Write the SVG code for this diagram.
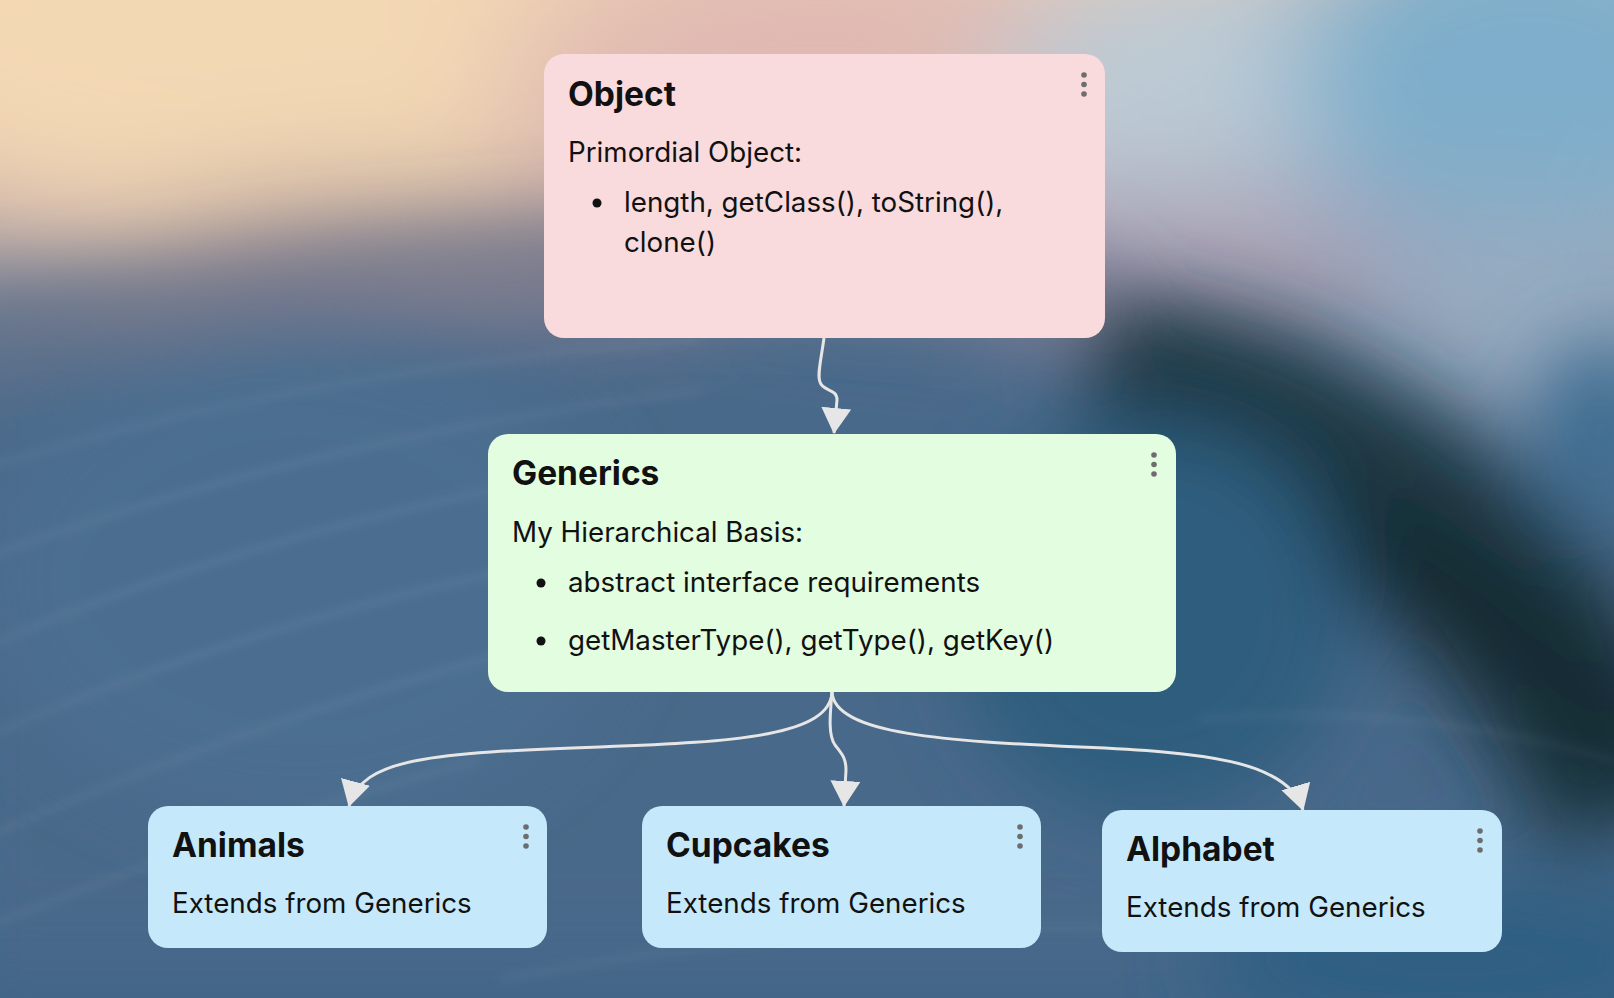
<svg xmlns="http://www.w3.org/2000/svg" width="1614" height="998" viewBox="0 0 1614 998">
<defs>
<linearGradient id="bg" x1="0" y1="0" x2="0" y2="1">
<stop offset="0" stop-color="#e8c8b4"/>
<stop offset="0.2" stop-color="#c4aaa8"/>
<stop offset="0.36" stop-color="#5d7892"/>
<stop offset="0.6" stop-color="#46698b"/>
<stop offset="1" stop-color="#3b6386"/>
</linearGradient>
<filter id="blur60" x="-50%" y="-50%" width="200%" height="200%"><feGaussianBlur stdDeviation="60"/></filter>
<filter id="blur35" x="-50%" y="-50%" width="200%" height="200%"><feGaussianBlur stdDeviation="40"/></filter>
<filter id="blur6" x="-10%" y="-50%" width="120%" height="200%"><feGaussianBlur stdDeviation="5"/></filter>
<marker id="ah" viewBox="0 0 26 30" markerWidth="26" markerHeight="30" refX="25" refY="15" orient="auto" markerUnits="userSpaceOnUse">
<path d="M0,0 L26,15 L0,30 Z" fill="#e6e6e6"/>
</marker>
<style>
.title{font-family:Inter,"Liberation Sans",sans-serif;font-weight:700;font-size:33.5px;fill:#111}
.body{font-family:Inter,"Liberation Sans",sans-serif;font-weight:400;font-size:27.75px;fill:#111}
.dot{fill:#6d6d6d}
.bul{fill:#111}
.edge{fill:none;stroke:#e6e6e6;stroke-width:3;marker-end:url(#ah)}
.pink{fill:#f9dbdd}
.green{fill:#e3fde0}
.blue{fill:#c5e9fb}
</style>
</defs>

<g id="background">
<rect x="0" y="0" width="1614" height="998" fill="url(#bg)"/>
<g filter="url(#blur60)">
<ellipse cx="240" cy="30" rx="440" ry="200" fill="#f3d8b4"/>
<ellipse cx="820" cy="80" rx="330" ry="130" fill="#e0bab2"/>
<ellipse cx="420" cy="250" rx="300" ry="60" fill="#b69c9c"/>
<ellipse cx="1250" cy="100" rx="260" ry="150" fill="#bccbd5"/>
<ellipse cx="1530" cy="80" rx="240" ry="190" fill="#7eaecb"/>
<ellipse cx="1520" cy="320" rx="180" ry="120" fill="#97abc0"/>
<ellipse cx="1200" cy="250" rx="220" ry="60" fill="#a89cb2"/>
<path d="M-100 350 Q 700 150 1614 450 L 1614 998 L -100 998 Z" fill="#48698a"/>
</g>
<g filter="url(#blur35)">
<path d="M-60 350 Q 600 200 1100 300" fill="none" stroke="#6d7489" stroke-width="60"/>
<path d="M1090 390 Q 1470 440 1640 820" fill="none" stroke="#1d3743" stroke-width="190"/>
<path d="M1320 520 Q 1520 610 1640 760" fill="none" stroke="#142b32" stroke-width="110"/>
<ellipse cx="1600" cy="430" rx="60" ry="90" fill="#3a6a90"/>
<ellipse cx="1150" cy="620" rx="200" ry="200" fill="#2f5d7e"/>
<ellipse cx="1450" cy="960" rx="250" ry="80" fill="#2e5f82"/>
<ellipse cx="300" cy="580" rx="320" ry="240" fill="#4b6e90"/>
</g>
<g filter="url(#blur6)" stroke="#ffffff" stroke-opacity="0.06" fill="none" stroke-width="6">
<path d="M-20 470 Q 300 370 700 340"/>
<path d="M-20 560 Q 300 440 700 390"/>
<path d="M-20 650 Q 250 530 600 470"/>
<path d="M-20 740 Q 250 620 560 560"/>
<path d="M-20 840 Q 250 720 520 650"/>
<path d="M-20 930 Q 250 820 480 760"/>
<path d="M500 980 Q 900 900 1300 940"/>
<path d="M1200 720 Q 1400 700 1614 760"/>
</g>
</g>

<g id="connectors">
<path class="edge" d="M824 338 C 821 360, 817 375, 820 382 C 823 392, 837 388, 837 400 L 834 433"/>
<path class="edge" d="M832 692 C 830 735, 740 742, 600 747 C 430 753, 362 758, 349 806"/>
<path class="edge" d="M832 692 C 830 715, 828 735, 835 745 C 842 754, 846 758, 846 770 L 844 806"/>
<path class="edge" d="M832 692 C 834 735, 950 741, 1080 747 C 1200 752, 1288 760, 1303 810"/>
</g>

<g id="node-object">
<rect class="pink" x="544" y="54" width="561" height="284" rx="20"/>
<circle class="dot" cx="1084" cy="75" r="2.8"/>
<circle class="dot" cx="1084" cy="84.5" r="2.8"/>
<circle class="dot" cx="1084" cy="94" r="2.8"/>
<text class="title" x="568" y="106">Object</text>
<text class="body" x="568" y="162">Primordial Object:</text>
<circle class="bul" cx="597" cy="203" r="4.5"/>
<text class="body" x="624" y="212">length, getClass(), toString(),</text>
<text class="body" x="624" y="252">clone()</text>
</g>

<g id="node-generics">
<rect class="green" x="488" y="434" width="688" height="258" rx="20"/>
<circle class="dot" cx="1154" cy="455" r="2.8"/>
<circle class="dot" cx="1154" cy="464.5" r="2.8"/>
<circle class="dot" cx="1154" cy="474" r="2.8"/>
<text class="title" x="512" y="485">Generics</text>
<text class="body" x="512" y="542">My Hierarchical Basis:</text>
<circle class="bul" cx="541" cy="583" r="4.5"/>
<text class="body" x="568" y="592">abstract interface requirements</text>
<circle class="bul" cx="541" cy="641" r="4.5"/>
<text class="body" x="568" y="650">getMasterType(), getType(), getKey()</text>
</g>

<g id="node-animals">
<rect class="blue" x="148" y="806" width="399" height="142" rx="20"/>
<circle class="dot" cx="526" cy="827" r="2.8"/>
<circle class="dot" cx="526" cy="836.5" r="2.8"/>
<circle class="dot" cx="526" cy="846" r="2.8"/>
<text class="title" x="172" y="857">Animals</text>
<text class="body" x="172" y="913">Extends from Generics</text>
</g>

<g id="node-cupcakes">
<rect class="blue" x="642" y="806" width="399" height="142" rx="20"/>
<circle class="dot" cx="1020" cy="827" r="2.8"/>
<circle class="dot" cx="1020" cy="836.5" r="2.8"/>
<circle class="dot" cx="1020" cy="846" r="2.8"/>
<text class="title" x="666" y="857">Cupcakes</text>
<text class="body" x="666" y="913">Extends from Generics</text>
</g>

<g id="node-alphabet">
<rect class="blue" x="1102" y="810" width="400" height="142" rx="20"/>
<circle class="dot" cx="1480" cy="831" r="2.8"/>
<circle class="dot" cx="1480" cy="840.5" r="2.8"/>
<circle class="dot" cx="1480" cy="850" r="2.8"/>
<text class="title" x="1126" y="861">Alphabet</text>
<text class="body" x="1126" y="917">Extends from Generics</text>
</g>
</svg>
